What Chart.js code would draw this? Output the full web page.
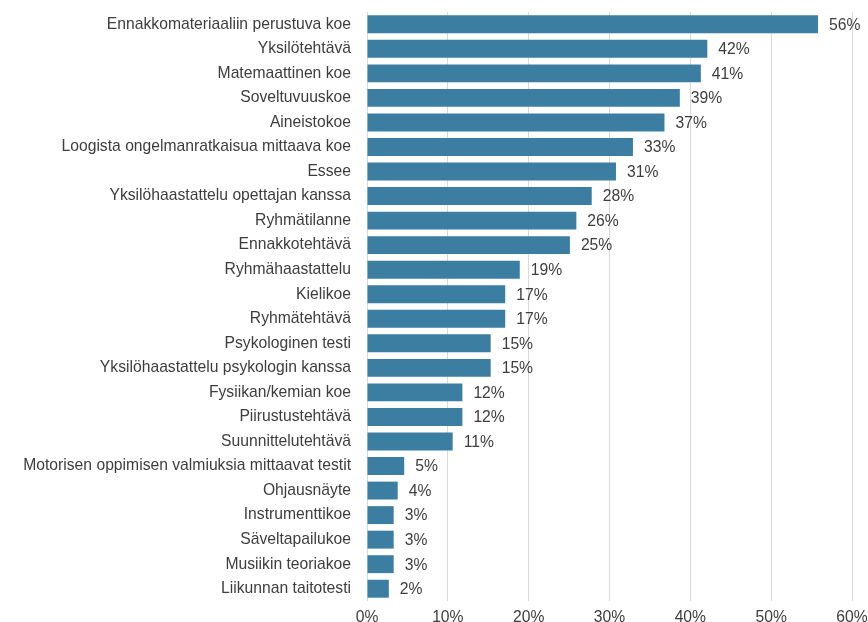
<!DOCTYPE html>
<html>
<head>
<meta charset="utf-8">
<script src="https://cdn.jsdelivr.net/npm/chart.js@4"></script>
<style>
  html, body { margin: 0; padding: 0; background: #fff; }
  #wrap { width: 868px; height: 622px; }
</style>
</head>
<body>
<div id="wrap"><canvas id="barChart"></canvas></div>
<script>
const categories = [
    "Ennakkomateriaaliin perustuva koe", "Yksilötehtävä", "Matemaattinen koe",
    "Soveltuvuuskoe", "Aineistokoe", "Loogista ongelmanratkaisua mittaava koe",
    "Essee", "Yksilöhaastattelu opettajan kanssa", "Ryhmätilanne", "Ennakkotehtävä",
    "Ryhmähaastattelu", "Kielikoe", "Ryhmätehtävä", "Psykologinen testi",
    "Yksilöhaastattelu psykologin kanssa", "Fysiikan/kemian koe", "Piirustustehtävä",
    "Suunnittelutehtävä", "Motorisen oppimisen valmiuksia mittaavat testit",
    "Ohjausnäyte", "Instrumenttikoe", "Säveltapailukoe", "Musiikin teoriakoe",
    "Liikunnan taitotesti"
];
// bar lengths (percent)
const values = [55.8, 42.1, 41.3, 38.7, 36.8, 32.9, 30.8, 27.8, 25.9, 25.1,
    18.9, 17.1, 17.1, 15.3, 15.3, 11.8, 11.8, 10.6, 4.6, 3.8, 3.3, 3.3, 3.3, 2.7];
// labels printed next to the bars
const shownLabels = ["56%", "42%", "41%", "39%", "37%", "33%", "31%", "28%", "26%", "25%",
    "19%", "17%", "17%", "15%", "15%", "12%", "12%", "11%", "5%", "4%", "3%", "3%", "3%", "2%"];
const xTicks = [0, 10, 20, 30, 40, 50, 60];

const barColor = "#3b7ea1";
const textColor = "#3d3d3d";
const fontFamily = "'Liberation Sans', Arial, sans-serif";
const fontSize = 15.7;

// draws the percentage text to the right of each bar
const valueLabels = {
    id: "valueLabels",
    afterDatasetsDraw(chart) {
        const ctx = chart.ctx;
        const meta = chart.getDatasetMeta(0);
        ctx.save();
        ctx.font = fontSize + "px " + fontFamily;
        ctx.fillStyle = textColor;
        ctx.textAlign = "left";
        ctx.textBaseline = "middle";
        meta.data.forEach((bar, i) => {
            ctx.fillText(shownLabels[i], bar.x + 11, bar.y + 1);
        });
        ctx.restore();
    }
};

const ctx = document.getElementById("barChart");
const barChart = new Chart(ctx, {
    type: "bar",
    data: {
        labels: categories,
        datasets: [{
            data: values,
            backgroundColor: barColor,
            barPercentage: 0.73,
            categoryPercentage: 1
        }]
    },
    plugins: [valueLabels],
    options: {
        indexAxis: "y",
        responsive: true,
        maintainAspectRatio: false,
        animation: false,
        layout: { padding: { top: 12, right: 16, left: 0, bottom: 0 } },
        plugins: {
            legend: { display: false },
            tooltip: { enabled: false }
        },
        scales: {
            x: {
                min: 0,
                max: 60,
                afterBuildTicks: (scale) => { scale.ticks = xTicks.map(v => ({ value: v })); },
                afterFit: (scale) => {
                    scale.height = 21;
                    scale.paddingRight = 0; // let the 60% label hang into the layout padding
                    scale.paddingLeft = 0;
                },
                grid: { color: "#d9d9d9", drawTicks: false, lineWidth: 1 },
                border: { display: false },
                ticks: {
                    padding: 7,
                    color: textColor,
                    font: { family: fontFamily, size: fontSize },
                    callback: (v) => v + "%"
                }
            },
            y: {
                afterFit: (scale) => {
                    scale.width = 367;
                    scale.paddingTop = 0;
                    scale.paddingBottom = 0;
                },
                grid: { display: false, drawTicks: false },
                border: { display: false },
                ticks: {
                    padding: 16,
                    autoSkip: false,
                    color: textColor,
                    font: { family: fontFamily, size: fontSize }
                }
            }
        }
    }
});
</script>
</body>
</html>
